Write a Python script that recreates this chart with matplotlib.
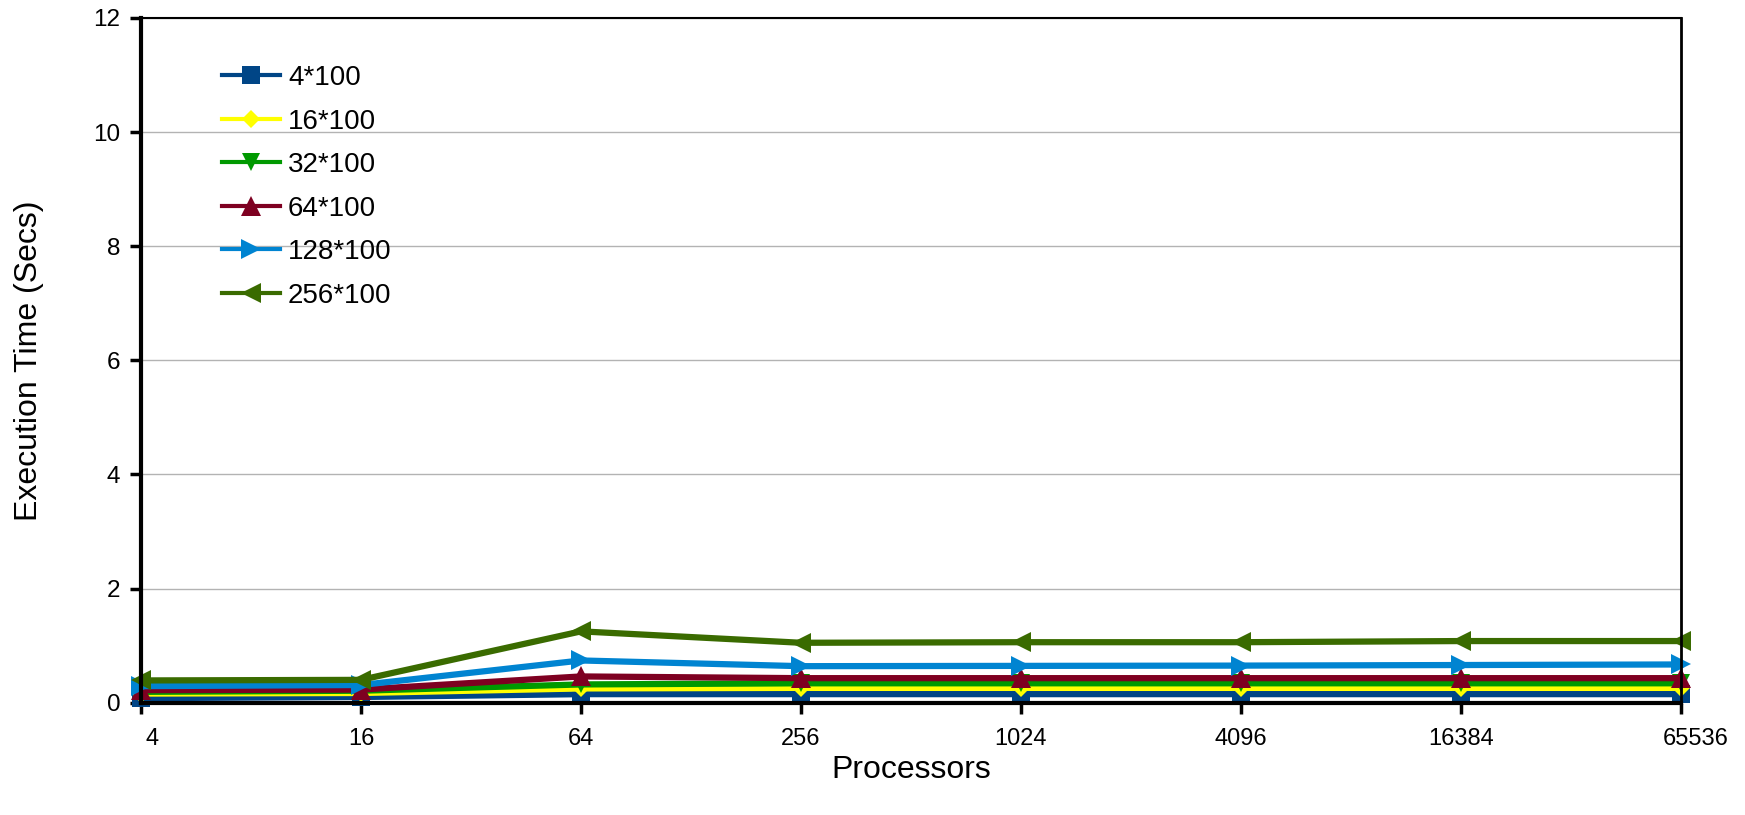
import matplotlib
matplotlib.use("Agg")
import matplotlib.pyplot as plt
import matplotlib.transforms as mtransforms
import numpy as np

plt.rcParams["font.family"] = ["Liberation Sans", "DejaVu Sans"]

# Кількість процесорів (категорії осі X)
processors = ["4", "16", "64", "256", "1024", "4096", "16384", "65536"]

# Час виконання (сек) для різних розмірів задачі
labels = ["4*100", "16*100", "32*100", "64*100", "128*100", "256*100"]
time_4 = [0.08, 0.10, 0.15, 0.15, 0.15, 0.15, 0.15, 0.15]
time_16 = [0.16, 0.17, 0.25, 0.26, 0.26, 0.26, 0.26, 0.26]
time_32 = [0.19, 0.21, 0.32, 0.34, 0.34, 0.34, 0.34, 0.34]
time_64 = [0.22, 0.23, 0.46, 0.43, 0.43, 0.43, 0.43, 0.43]
time_128 = [0.29, 0.31, 0.74, 0.64, 0.645, 0.65, 0.66, 0.67]
time_256 = [0.39, 0.40, 1.25, 1.05, 1.06, 1.06, 1.08, 1.08]

series = [time_4, time_16, time_32, time_64, time_128, time_256]
colors = ["#004586", "#ffff00", "#009900", "#7e0021", "#0084d1", "#3a6b00"]
markers = ["s", "D", "v", "^", ">", "<"]
marker_sizes = [13, 9, 13, 14, 15, 15]


def plot_results():
    fig = plt.figure(figsize=(17.45, 8.15), dpi=100)
    ax = fig.add_axes([0.0808, 0.1378, 0.8825, 0.8402])

    x = np.arange(len(processors))
    for values, label, color, marker, ms in zip(series, labels, colors, markers, marker_sizes):
        ax.plot(x, values, color=color, marker=marker, markersize=ms,
                markeredgewidth=0, linewidth=4.5, label=label,
                clip_on=False, zorder=3)

    ax.set_xlim(0, len(processors) - 1)
    ax.set_ylim(0, 12)
    ax.set_xticks(x)
    ax.set_xticklabels(processors, fontsize=17)
    ax.set_yticks(range(0, 13, 2))
    ax.tick_params(axis="y", labelsize=17.5, length=8, width=2.5, direction="out", pad=7)
    ax.tick_params(axis="x", length=8, width=2.5, direction="out", pad=10)

    # крайні підписи зсунуті всередину, як у LibreOffice
    tl = ax.get_xticklabels()
    tl[0].set_transform(tl[0].get_transform() + mtransforms.ScaledTranslation(0.11, 0, fig.dpi_scale_trans))
    tl[-1].set_transform(tl[-1].get_transform() + mtransforms.ScaledTranslation(0.15, 0, fig.dpi_scale_trans))

    ax.yaxis.grid(True, color="#b3b3b3", linewidth=1)
    ax.set_axisbelow(True)

    ax.spines["left"].set_linewidth(3)
    ax.spines["bottom"].set_linewidth(3)
    ax.spines["right"].set_linewidth(2)
    ax.spines["top"].set_linewidth(1.5)
    for s in ax.spines.values():
        s.set_color("black")
        s.set_zorder(4)

    ax.set_xlabel("Processors", fontsize=23)
    ax.xaxis.set_label_coords(0.5, -0.099)
    ax.xaxis.label.set_va("center")
    ax.set_ylabel("Execution Time (Secs)", fontsize=23)
    ax.yaxis.set_label_coords(-0.0725, 0.5)
    ax.yaxis.label.set_va("center")

    leg = ax.legend(loc="upper left", bbox_to_anchor=(0.127, 0.920),
                    bbox_transform=fig.transFigure, frameon=False, fontsize=20,
                    numpoints=1, handlelength=2.1, handletextpad=0.29,
                    labelspacing=0.63, borderpad=0, borderaxespad=0)
    for line in leg.get_lines():
        line.set_linewidth(3)

    fig.savefig("out.png", dpi=100)


if __name__ == "__main__":
    plot_results()
